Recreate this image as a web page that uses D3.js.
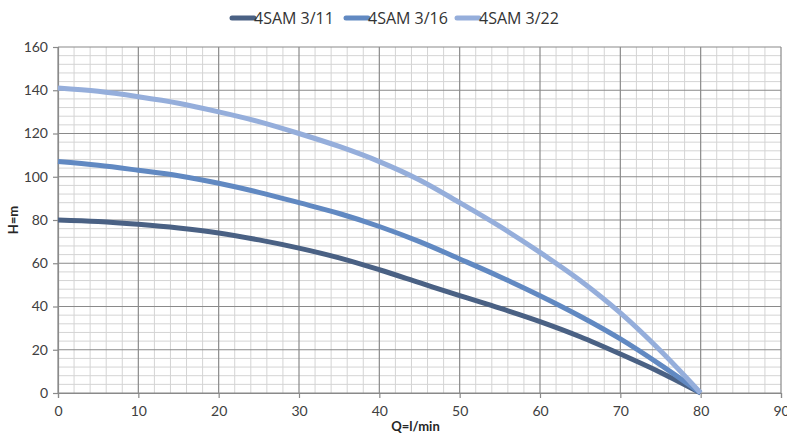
<!DOCTYPE html>
<html>
<head>
<meta charset="utf-8">
<script src="https://cdn.jsdelivr.net/npm/d3@7"></script>
<style>
  body { margin: 0; background: #fff; }
  text { font-family: Lato, "Open Sans", sans-serif; }
</style>
</head>
<body>
<div id="chart"></div>
<script>
// Data (Q in l/min, H in m)
const flow = [0, 5, 10, 15, 20, 25, 30, 35, 40, 45, 50, 55, 60, 65, 70, 75, 80];
const sam311 = [80, 79.3, 78, 76.3, 74, 70.8, 67, 62.5, 57, 51, 45, 39.2, 33, 26, 18, 9.5, 0];
const sam316 = [107, 105.3, 103, 100.5, 97, 92.8, 88, 83, 77, 70, 62, 53.8, 45, 35.5, 25, 13, 0];
const sam322 = [141, 139.5, 137, 134, 130, 125.5, 120, 114, 107, 98.5, 88, 77, 65, 52, 37, 19.5, 0];
const seriesNames = ["4SAM 3/11", "4SAM 3/16", "4SAM 3/22"];
const seriesColors = ["#4a6184", "#6189c2", "#95aedb"];
const xTicks = [0, 10, 20, 30, 40, 50, 60, 70, 80, 90];
const yTicks = [0, 20, 40, 60, 80, 100, 120, 140, 160];

const chart = {
  margin: { top: 47, right: 6, bottom: 41, left: 58 },
  width: 787,
  height: 434
};
const innerW = chart.width - chart.margin.left - chart.margin.right;
const innerH = chart.height - chart.margin.top - chart.margin.bottom;

const svg = d3.select("#chart")
  .append("svg")
  .attr("width", chart.width)
  .attr("height", chart.height);

const g = svg.append("g")
  .attr("transform", "translate(" + chart.margin.left + "," + chart.margin.top + ")");

const x = d3.scaleLinear().domain([0, 90]).range([0, innerW]);
const y = d3.scaleLinear().domain([0, 160]).range([innerH, 0]);

// Minor grid
g.append("g")
  .selectAll("line")
  .data(d3.range(0, 91, 2).filter(v => v % 10 !== 0))
  .enter().append("line")
  .attr("x1", d => x(d)).attr("x2", d => x(d))
  .attr("y1", 0).attr("y2", innerH)
  .attr("stroke", "#d4d4d4").attr("stroke-width", 1);

g.append("g")
  .selectAll("line")
  .data(d3.range(0, 161, 4).filter(v => v % 20 !== 0))
  .enter().append("line")
  .attr("x1", 0).attr("x2", innerW)
  .attr("y1", d => y(d)).attr("y2", d => y(d))
  .attr("stroke", "#d4d4d4").attr("stroke-width", 1);

// Major grid
g.append("g")
  .selectAll("line")
  .data(xTicks)
  .enter().append("line")
  .attr("x1", d => x(d)).attr("x2", d => x(d))
  .attr("y1", 0).attr("y2", innerH)
  .attr("stroke", "#8a8a8a").attr("stroke-width", 1.2);

g.append("g")
  .selectAll("line")
  .data(yTicks)
  .enter().append("line")
  .attr("x1", 0).attr("x2", innerW)
  .attr("y1", d => y(d)).attr("y2", d => y(d))
  .attr("stroke", "#8a8a8a").attr("stroke-width", 1.2);

// Axes
const xAxis = g.append("g")
  .attr("transform", "translate(0," + innerH + ")")
  .call(d3.axisBottom(x).tickValues(xTicks).tickSize(5).tickPadding(8));
const yAxis = g.append("g")
  .call(d3.axisLeft(y).tickValues(yTicks).tickSize(5).tickPadding(5));

[xAxis, yAxis].forEach(a => {
  a.select(".domain").attr("stroke", "#8a8a8a").attr("stroke-width", 1.2);
  a.selectAll(".tick line").attr("stroke", "#8a8a8a").attr("stroke-width", 1.2);
  a.selectAll("text")
    .attr("fill", "#404040")
    .style("font-size", "14px")
    .style("font-family", "Lato, 'Open Sans', sans-serif");
});

// Curves
const allSeries = [sam311, sam316, sam322];
const line = d3.line()
  .x((d, i) => x(flow[i]))
  .y(d => y(d))
  .curve(d3.curveMonotoneX);

g.selectAll(".curve")
  .data(allSeries)
  .enter()
  .append("path")
  .attr("class", "curve")
  .attr("d", d => line(d))
  .attr("fill", "none")
  .attr("stroke", (d, i) => seriesColors[i])
  .attr("stroke-width", 5)
  .attr("stroke-linecap", "butt");

// Axis labels
svg.append("text")
  .attr("x", chart.margin.left + innerW / 2 - 4)
  .attr("y", 431)
  .attr("text-anchor", "middle")
  .attr("font-size", "13px")
  .attr("font-weight", "bold")
  .attr("fill", "#262626")
  .text("Q=l/min");

svg.append("text")
  .attr("transform", "translate(18," + (chart.margin.top + innerH / 2) + ") rotate(-90)")
  .attr("text-anchor", "middle")
  .attr("font-size", "13px")
  .attr("font-weight", "bold")
  .attr("fill", "#262626")
  .text("H=m");

// Legend
const legendX = [232, 346, 457];
const legend = svg.append("g");
seriesNames.forEach((name, i) => {
  legend.append("line")
    .attr("x1", legendX[i]).attr("x2", legendX[i] + 22)
    .attr("y1", 18).attr("y2", 18)
    .attr("stroke", seriesColors[i])
    .attr("stroke-width", 5)
    .attr("stroke-linecap", "round");
  legend.append("text")
    .attr("x", legendX[i] + 22)
    .attr("y", 24)
    .attr("font-size", "16px")
    .style("font-family", "'Open Sans', sans-serif")
    .attr("fill", "#333")
    .text(name);
});
</script>
</body>
</html>
